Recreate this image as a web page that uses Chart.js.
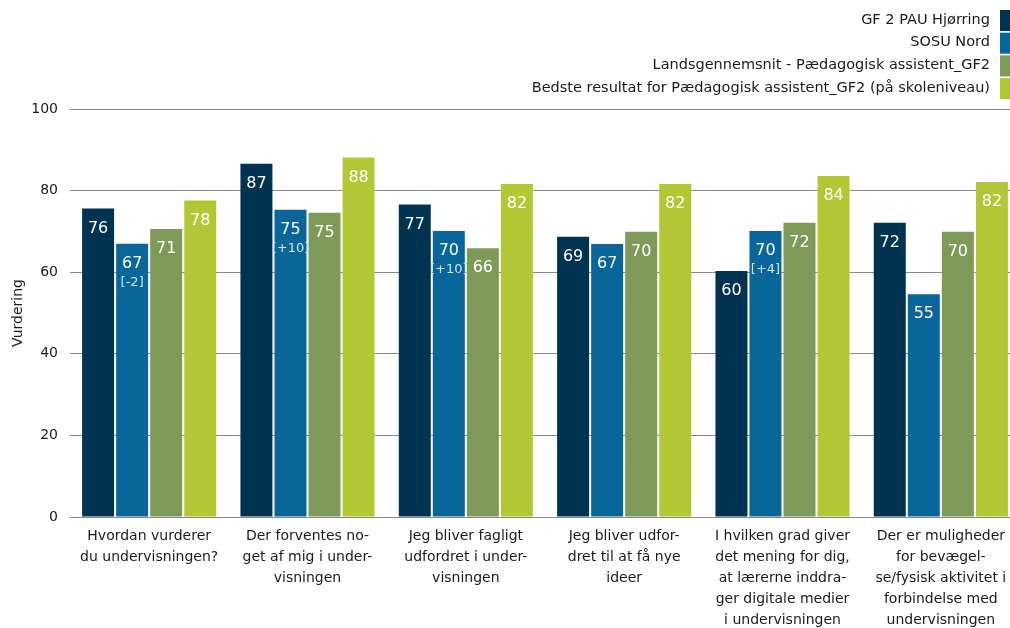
<!DOCTYPE html>
<html>
<head>
<meta charset="utf-8">
<script src="https://cdn.jsdelivr.net/npm/chart.js@4.4.1/dist/chart.umd.min.js"></script>
<style>
  html, body { margin: 0; padding: 0; background: #fff; overflow: hidden; }
  #wrap { width: 1020px; height: 628px; position: relative; }
</style>
</head>
<body>
<div id="wrap"><canvas id="chart1"></canvas></div>
<script>
var categories = [
    ['Hvordan vurderer', 'du undervisningen?'],
    ['Der forventes no-', 'get af mig i under-', 'visningen'],
    ['Jeg bliver fagligt', 'udfordret i under-', 'visningen'],
    ['Jeg bliver udfor-', 'dret til at få nye', 'ideer'],
    ['I hvilken grad giver', 'det mening for dig,', 'at lærerne inddra-', 'ger digitale medier', 'i undervisningen'],
    ['Der er muligheder', 'for bevægel-', 'se/fysisk aktivitet i', 'forbindelse med', 'undervisningen']
];
var seriesNames = [
    'GF 2 PAU Hjørring',
    'SOSU Nord',
    'Landsgennemsnit - Pædagogisk assistent_GF2',
    'Bedste resultat for Pædagogisk assistent_GF2 (på skoleniveau)'
];
var hjoerring = [75.6, 86.6, 76.6, 68.7, 60.3, 72.1];
var sosuNord = [67.0, 75.3, 70.1, 66.9, 70.1, 54.6];
var landsgennemsnit = [70.6, 74.6, 65.9, 69.9, 72.1, 69.9];
var bedste = [77.6, 88.1, 81.6, 81.6, 83.6, 82.1];
var sosuDiff = ['[-2]', '[+10]', '[+10]', '', '[+4]', ''];
var yTicks = [0, 20, 40, 60, 80, 100];

var colors = ['#003352', '#09669a', '#7e9a58', '#b3c634'];
var fontName = 'DejaVu Sans';

// legend: right aligned text, colour box to the right, one per line
var sideLegend = {
    id: 'sideLegend',
    afterDraw: function(chart) {
        var ctx = chart.ctx;
        ctx.save();
        ctx.font = '14.5px "' + fontName + '"';
        ctx.textAlign = 'right';
        ctx.textBaseline = 'middle';
        chart.data.datasets.forEach(function(ds, i) {
            var y = 20 + i * 22.7;
            ctx.fillStyle = '#1a1a1a';
            ctx.fillText(ds.label, 990, y);
            ctx.fillStyle = ds.backgroundColor;
            ctx.fillRect(1000, y - 10, 12, 21);
        });
        ctx.restore();
    }
};

// value labels inside the bars
var barLabels = {
    id: 'barLabels',
    afterDatasetsDraw: function(chart) {
        var ctx = chart.ctx;
        ctx.save();
        ctx.textAlign = 'center';
        ctx.textBaseline = 'middle';
        chart.data.datasets.forEach(function(ds, i) {
            var meta = chart.getDatasetMeta(i);
            meta.data.forEach(function(bar, j) {
                ctx.fillStyle = '#ffffff';
                ctx.font = '16px "' + fontName + '"';
                ctx.fillText(Math.round(ds.data[j]), bar.x, bar.y + 20);
                if (i === 1 && sosuDiff[j]) {
                    ctx.fillStyle = '#d3e3ef';
                    ctx.font = '13px "' + fontName + '"';
                    ctx.fillText(sosuDiff[j], bar.x, bar.y + 39);
                }
            });
        });
        ctx.restore();
    }
};

function makeChart() {
    var ctx1 = document.getElementById('chart1').getContext('2d');
    var series = [hjoerring, sosuNord, landsgennemsnit, bedste];
    var chart1 = new Chart(ctx1, {
        type: 'bar',
        data: {
            labels: categories,
            datasets: series.map(function(d, i) {
                return {
                    label: seriesNames[i],
                    data: d,
                    backgroundColor: colors[i],
                    categoryPercentage: 0.86,
                    barPercentage: 0.94
                };
            })
        },
        options: {
            responsive: true,
            maintainAspectRatio: false,
            animation: false,
            layout: { padding: { top: 109, left: 10, right: 0, bottom: 0 } },
            plugins: {
                legend: { display: false },
                tooltip: { enabled: false }
            },
            scales: {
                x: {
                    afterFit: function(axis) {
                        axis.height = 111;
                    },
                    grid: { display: false },
                    border: { display: false },
                    ticks: {
                        color: '#1a1a1a',
                        font: { family: fontName, size: 14, lineHeight: 1.5 },
                        maxRotation: 0,
                        autoSkip: false,
                        padding: 1
                    }
                },
                y: {
                    min: 0,
                    max: 100,
                    afterBuildTicks: function(axis) {
                        axis.ticks = yTicks.map(function(v) { return { value: v }; });
                    },
                    afterFit: function(axis) {
                        axis.width = 60;
                    },
                    grid: { color: '#8a8a8a', lineWidth: 1, drawTicks: false },
                    border: { display: false },
                    ticks: {
                        color: '#1a1a1a',
                        font: { family: fontName, size: 14 },
                        padding: 12
                    },
                    title: {
                        display: true,
                        text: 'Vurdering',
                        color: '#1a1a1a',
                        font: { family: fontName, size: 14 },
                        padding: { top: 0, bottom: 4 }
                    }
                }
            }
        },
        plugins: [sideLegend, barLabels]
    });
}

window.onload = function() {
    makeChart();
};
</script>
</body>
</html>
